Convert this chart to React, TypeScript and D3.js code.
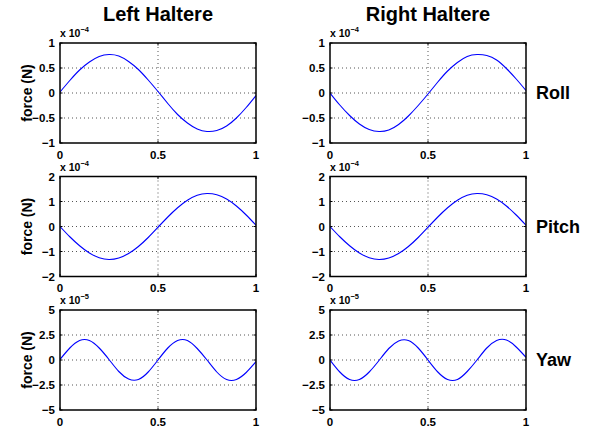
import React from "react";
import * as d3 from "d3";

const tSamples = [0, 0.05, 0.1, 0.15, 0.2, 0.25, 0.3, 0.35, 0.4, 0.45, 0.5, 0.55, 0.6, 0.65, 0.7, 0.75, 0.8, 0.85, 0.9, 0.95, 1];

// values in units of the axis multiplier (1e-4 or 1e-5)
const leftRoll = [0.02, 0.25, 0.46, 0.62, 0.73, 0.77, 0.74, 0.63, 0.47, 0.26, 0.03, -0.21, -0.43, -0.6, -0.72, -0.77, -0.75, -0.66, -0.5, -0.29, -0.05];
const rightRoll = [0.0, -0.24, -0.45, -0.62, -0.73, -0.77, -0.74, -0.63, -0.46, -0.25, -0.02, 0.22, 0.44, 0.61, 0.73, 0.77, 0.75, 0.66, 0.49, 0.28, 0.05];
const leftPitch = [0.0, -0.41, -0.77, -1.06, -1.25, -1.32, -1.26, -1.08, -0.8, -0.44, -0.03, 0.38, 0.75, 1.05, 1.25, 1.32, 1.27, 1.1, 0.82, 0.46, 0.05];
const rightPitch = [0.0, -0.41, -0.77, -1.06, -1.25, -1.32, -1.26, -1.08, -0.8, -0.44, -0.03, 0.38, 0.75, 1.05, 1.25, 1.32, 1.27, 1.1, 0.82, 0.46, 0.05];
const leftYaw = [0.05, 1.2, 1.95, 1.95, 1.2, 0.05, -1.15, -1.9, -1.95, -1.2, 0.0, 1.2, 1.95, 1.95, 1.15, 0.0, -1.2, -1.95, -1.95, -1.25, -0.17];
const rightYaw = [0.0, -1.2, -1.95, -1.95, -1.2, -0.05, 1.15, 1.9, 1.95, 1.2, 0.0, -1.2, -1.95, -1.95, -1.15, 0.0, 1.2, 1.95, 2.0, 1.3, 0.27];

const columnTitles = ["Left Haltere", "Right Haltere"];
const rowLabels = ["Roll", "Pitch", "Yaw"];
const xTicks = [0, 0.5, 1];
const xTickLabels = ["0", "0.5", "1"];
const rollTicks = [-1, -0.5, 0, 0.5, 1];
const rollTickLabels = ["\u22121", "\u22120.5", "0", "0.5", "1"];
const pitchTicks = [-2, -1, 0, 1, 2];
const pitchTickLabels = ["\u22122", "\u22121", "0", "1", "2"];
const yawTicks = [-5, -2.5, 0, 2.5, 5];
const yawTickLabels = ["\u22125", "\u22122.5", "0", "2.5", "5"];
const exponents = ["\u22124", "\u22124", "\u22125"];
const yDomains: [number, number][] = [[-1, 1], [-2, 2], [-5, 5]];

const rowsData = [
  { left: leftRoll, right: rightRoll, ticks: rollTicks, labels: rollTickLabels },
  { left: leftPitch, right: rightPitch, ticks: pitchTicks, labels: pitchTickLabels },
  { left: leftYaw, right: rightYaw, ticks: yawTicks, labels: yawTickLabels },
];

const W = 589;
const H = 430;
const colX: [number, number][] = [[60, 256], [330, 526]];
const rowY: [number, number][] = [[43, 143], [176.5, 276.5], [310, 410]];
const FONT = "'Liberation Sans', Arial, Helvetica, sans-serif";

function Panel({ col, row }: { col: number; row: number }) {
  const [x0, x1] = colX[col];
  const [y0, y1] = rowY[row];
  const rd = rowsData[row];
  const values = col === 0 ? rd.left : rd.right;
  const x = d3.scaleLinear().domain([0, 1]).range([x0, x1]);
  const y = d3.scaleLinear().domain(yDomains[row]).range([y1, y0]);
  const line = d3
    .line<number>()
    .x((_, i) => x(tSamples[i]))
    .y((v) => y(v))
    .curve(d3.curveNatural);
  const path = line(values) || "";
  const clipId = `clip-${row}-${col}`;
  return (
    <g>
      <defs>
        <clipPath id={clipId}>
          <rect x={x0} y={y0} width={x1 - x0} height={y1 - y0} />
        </clipPath>
      </defs>
      {rd.ticks.slice(1, -1).map((t, i) => (
        <line key={"gy" + i} x1={x0} x2={x1} y1={y(t)} y2={y(t)} stroke="#555" strokeWidth={1} strokeDasharray="1,3" />
      ))}
      {xTicks.slice(1, -1).map((t, i) => (
        <line key={"gx" + i} x1={x(t)} x2={x(t)} y1={y0} y2={y1} stroke="#555" strokeWidth={1} strokeDasharray="1,3" />
      ))}
      {rd.ticks.map((t, i) => (
        <g key={"ty" + i}>
          <line x1={x0} x2={x0 + 2.5} y1={y(t)} y2={y(t)} stroke="#000" strokeWidth={1} />
          <line x1={x1} x2={x1 - 2.5} y1={y(t)} y2={y(t)} stroke="#000" strokeWidth={1} />
        </g>
      ))}
      {xTicks.map((t, i) => (
        <g key={"tx" + i}>
          <line x1={x(t)} x2={x(t)} y1={y1} y2={y1 - 2.5} stroke="#000" strokeWidth={1} />
          <line x1={x(t)} x2={x(t)} y1={y0} y2={y0 + 2.5} stroke="#000" strokeWidth={1} />
        </g>
      ))}
      <path d={path} fill="none" stroke="#0000ff" strokeWidth={1.1} clipPath={`url(#${clipId})`} />
      <rect x={x0} y={y0} width={x1 - x0} height={y1 - y0} fill="none" stroke="#000" strokeWidth={1.5} />
      {rd.ticks.map((t, i) => (
        <text key={"ly" + i} x={x0 - 5} y={y(t) + 4} textAnchor="end" fontSize={11.5} fontWeight="bold" fontFamily={FONT}>
          {rd.labels[i]}
        </text>
      ))}
      {xTicks.map((t, i) => (
        <text key={"lx" + i} x={x(t)} y={y1 + 15.5} textAnchor="middle" fontSize={11.5} fontWeight="bold" fontFamily={FONT}>
          {xTickLabels[i]}
        </text>
      ))}
      <text x={x0} y={y0 - 6} fontSize={10.5} fontWeight="bold" fontFamily={FONT}>
        x 10
        <tspan fontSize={7.5} dy={-5}>{exponents[row]}</tspan>
      </text>
      {col === 0 && (
        <text
          transform={`translate(${32},${(y0 + y1) / 2}) rotate(-90)`}
          textAnchor="middle"
          fontSize={14}
          fontWeight="bold"
          fontFamily={FONT}
        >
          force (N)
        </text>
      )}
      {col === 1 && (
        <text x={x1 + 10} y={(y0 + y1) / 2 + 6} fontSize={18} fontWeight="bold" fontFamily={FONT}>
          {rowLabels[row]}
        </text>
      )}
    </g>
  );
}

export default function App() {
  return (
    <svg width={W} height={H} style={{ display: "block", position: "absolute", left: 0, top: 0, background: "#fff" }}>
      <rect x={0} y={0} width={W} height={H} fill="#fff" />
      {columnTitles.map((t, i) => (
        <text
          key={t}
          x={(colX[i][0] + colX[i][1]) / 2}
          y={21}
          textAnchor="middle"
          fontSize={20}
          fontWeight="bold"
          fontFamily={FONT}
        >
          {t}
        </text>
      ))}
      {[0, 1, 2].map((r) => [0, 1].map((c) => <Panel key={`${r}-${c}`} row={r} col={c} />))}
    </svg>
  );
}
